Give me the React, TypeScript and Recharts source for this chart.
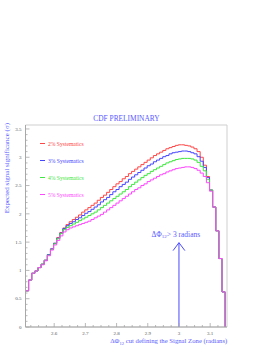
import { LineChart, Line, XAxis, YAxis, ReferenceLine, ReferenceArea } from "recharts";

// histogram: 0.01 wide bins starting at the left edge of the axis
const BIN_START = 2.508;
const BIN_WIDTH = 0.01;

const sys2 = [0.64, 0.83, 0.95, 0.99, 1.05, 1.11, 1.18, 1.28, 1.38, 1.48, 1.58, 1.67,
  1.75, 1.81, 1.86, 1.9, 1.94, 1.98, 2.03, 2.07, 2.11, 2.15,
  2.19, 2.24, 2.29, 2.33, 2.38, 2.43, 2.48, 2.53, 2.57, 2.62,
  2.66, 2.71, 2.75, 2.79, 2.83, 2.87, 2.91, 2.95, 2.99, 3.03,
  3.06, 3.09, 3.12, 3.15, 3.17, 3.19, 3.21, 3.22, 3.22, 3.21,
  3.2, 3.18, 3.15, 3.1, 3.0, 2.86, 2.66,
  2.42, 2.12, 1.7, 1.21, 0.62];

const sys3 = [0.64, 0.83, 0.95, 0.99, 1.05, 1.11, 1.18, 1.28, 1.38, 1.48, 1.57, 1.66,
  1.74, 1.79, 1.83, 1.86, 1.9, 1.93, 1.97, 2.01, 2.04, 2.08,
  2.12, 2.16, 2.21, 2.25, 2.29, 2.34, 2.39, 2.43, 2.48, 2.52,
  2.56, 2.61, 2.65, 2.69, 2.73, 2.77, 2.81, 2.85, 2.88, 2.92,
  2.95, 2.98, 3.01, 3.03, 3.06, 3.08, 3.09, 3.1, 3.11, 3.11,
  3.1, 3.08, 3.06, 3.01, 2.93, 2.82, 2.64,
  2.42, 2.12, 1.7, 1.21, 0.62];

const sys4 = [0.64, 0.83, 0.95, 0.99, 1.05, 1.11, 1.18, 1.27, 1.37, 1.47, 1.56, 1.65,
  1.72, 1.76, 1.79, 1.82, 1.85, 1.88, 1.91, 1.94, 1.97, 2.0,
  2.03, 2.07, 2.11, 2.15, 2.19, 2.23, 2.27, 2.31, 2.35, 2.39,
  2.43, 2.48, 2.52, 2.56, 2.6, 2.64, 2.68, 2.71, 2.75, 2.78,
  2.81, 2.84, 2.87, 2.9, 2.92, 2.94, 2.96, 2.97, 2.98, 2.98,
  2.98, 2.97, 2.95, 2.91, 2.84, 2.76, 2.61,
  2.42, 2.12, 1.7, 1.21, 0.62];

const sys5 = [0.64, 0.83, 0.95, 0.99, 1.05, 1.1, 1.17, 1.26, 1.36, 1.45, 1.53, 1.61,
  1.68, 1.72, 1.75, 1.77, 1.79, 1.81, 1.83, 1.85, 1.87, 1.9,
  1.93, 1.96, 1.99, 2.03, 2.07, 2.11, 2.15, 2.19, 2.23, 2.27,
  2.31, 2.35, 2.39, 2.43, 2.46, 2.5, 2.53, 2.57, 2.6, 2.63,
  2.66, 2.69, 2.71, 2.74, 2.76, 2.78, 2.8, 2.81, 2.82, 2.83,
  2.83, 2.82, 2.8, 2.77, 2.72, 2.66, 2.55,
  2.4, 2.12, 1.7, 1.21, 0.62];

const SERIES = [
  { key: "s2", label: "2% Systematics", color: "#ff4646", values: sys2 },
  { key: "s3", label: "3% Systematics", color: "#4646ff", values: sys3 },
  { key: "s4", label: "4% Systematics", color: "#3ee83e", values: sys4 },
  { key: "s5", label: "5% Systematics", color: "#ff46ff", values: sys5 },
];

const X_MAJOR = [2.6, 2.7, 2.8, 2.9, 3, 3.1];
const X_MAJOR_LABELS = ["2.6", "2.7", "2.8", "2.9", "3", "3.1"];
const Y_MAJOR = [0, 0.5, 1, 1.5, 2, 2.5, 3, 3.5];
const Y_MAJOR_LABELS = ["0", "0.5", "1", "1.5", "2", "2.5", "3", "3.5"];

const X_DOMAIN: [number, number] = [2.508, 3.154];
const Y_DOMAIN: [number, number] = [0, 3.57];

const CUT = 3;
const CUT_ARROW_TOP = 1.49;

const BLUE_TEXT = "#5a5aff";
const AXIS = "#a8a8a8";
const FONT = "'Liberation Serif', 'DejaVu Serif', serif";

// minor ticks every 0.025 on x, 0.1 on y
const xTicks: number[] = [];
for (let i = 1; i <= 25; i++) xTicks.push(+(2.5 + i * 0.025).toFixed(3));
const yTicks: number[] = [];
for (let i = 0; i <= 35; i++) yTicks.push(+(i * 0.1).toFixed(1));

// step rows: a zero at the start, one row per bin edge, and a zero closing the last bin
const rows: Record<string, number>[] = [];
const zero: Record<string, number> = { x: BIN_START };
SERIES.forEach((s) => (zero[s.key] = 0));
rows.push(zero);
sys2.forEach((_, i) => {
  const r: Record<string, number> = { x: +(BIN_START + i * BIN_WIDTH).toFixed(4) };
  SERIES.forEach((s) => (r[s.key] = s.values[i]));
  rows.push(r);
});
const end: Record<string, number> = { x: +(BIN_START + sys2.length * BIN_WIDTH).toFixed(4) };
SERIES.forEach((s) => (end[s.key] = 0));
rows.push(end);

const near = (a: number, b: number) => Math.abs(a - b) < 1e-6;

const XTick = (props: any) => {
  const { x, y, payload } = props;
  const idx = X_MAJOR.findIndex((t) => near(t, payload.value));
  const major = idx >= 0;
  return (
    <g>
      <line x1={x} x2={x} y1={y} y2={y - (major ? 4 : 2)} stroke={AXIS} strokeWidth={0.8} />
      {major && (
        <text x={x} y={y + 7.5} textAnchor="middle" fontSize={5} fill="#555" fontFamily={FONT}>
          {X_MAJOR_LABELS[idx]}
        </text>
      )}
    </g>
  );
};

const YTick = (props: any) => {
  const { x, y, payload } = props;
  const idx = Y_MAJOR.findIndex((t) => near(t, payload.value));
  const major = idx >= 0;
  return (
    <g>
      <line x1={x} x2={x + (major ? 4 : 2)} y1={y} y2={y} stroke={AXIS} strokeWidth={0.8} />
      {major && (
        <text x={x - 4} y={y} dy="0.35em" textAnchor="end" fontSize={5} fill="#555" fontFamily={FONT}>
          {Y_MAJOR_LABELS[idx]}
        </text>
      )}
    </g>
  );
};

export default function App() {
  return (
    <div style={{ position: "relative", width: 273, height: 353, background: "#fff" }}>
      <style>{"body{margin:0}"}</style>
      <LineChart width={273} height={353} data={rows} margin={{ top: 125, right: 46, bottom: 0, left: 0 }}>
        <XAxis
          dataKey="x"
          type="number"
          domain={X_DOMAIN}
          allowDataOverflow
          ticks={xTicks}
          interval={0}
          tick={<XTick />}
          tickLine={false}
          tickSize={0}
          tickMargin={0}
          height={26}
          axisLine={{ stroke: AXIS }}
        />
        <YAxis
          type="number"
          domain={Y_DOMAIN}
          allowDataOverflow
          ticks={yTicks}
          interval={0}
          tick={<YTick />}
          tickLine={false}
          tickSize={0}
          tickMargin={0}
          width={25.5}
          axisLine={{ stroke: AXIS }}
        />
        <ReferenceArea
          x1={X_DOMAIN[0]}
          x2={X_DOMAIN[1]}
          y1={Y_DOMAIN[0]}
          y2={Y_DOMAIN[1]}
          fill="none"
          stroke="#cfcfcf"
          strokeWidth={1}
        />
        {SERIES.map((s) => (
          <Line
            key={s.key}
            dataKey={s.key}
            type="stepAfter"
            stroke={s.color}
            strokeWidth={1}
            dot={false}
            activeDot={false}
            isAnimationActive={false}
          />
        ))}
        <ReferenceLine segment={[{ x: CUT, y: 0 }, { x: CUT, y: CUT_ARROW_TOP }]} stroke="#4a4aff" strokeWidth={1} />
        <ReferenceLine segment={[{ x: CUT - 0.019, y: CUT_ARROW_TOP - 0.14 }, { x: CUT, y: CUT_ARROW_TOP }]} stroke="#4a4aff" strokeWidth={1} />
        <ReferenceLine segment={[{ x: CUT + 0.019, y: CUT_ARROW_TOP - 0.14 }, { x: CUT, y: CUT_ARROW_TOP }]} stroke="#4a4aff" strokeWidth={1} />
      </LineChart>
      <div style={{ position: "absolute", left: 40, top: 135, fontFamily: FONT, fontSize: 5.6 }}>
        {SERIES.map((s) => (
          <div key={s.key} style={{ display: "flex", alignItems: "center", height: 17, color: s.color, whiteSpace: "nowrap" }}>
            <span style={{ display: "inline-block", width: 5, height: 1, background: s.color, marginRight: 3 }} />
            {s.label}
          </div>
        ))}
      </div>
      <svg width={273} height={353} style={{ position: "absolute", left: 0, top: 0, pointerEvents: "none" }}>
        <g fontFamily={FONT} fill={BLUE_TEXT}>
          <text x={126.5} y={120.5} textAnchor="middle" fontSize={7.4}>CDF PRELIMINARY</text>
          <text x={151.5} y={236.5} fontSize={7.5}>
            ΔΦ<tspan dy={1.8} fontSize={5}>12</tspan>
            <tspan dy={-1.8}>&gt; 3 radians</tspan>
          </text>
          <text x={227.3} y={343} textAnchor="end" fontSize={6.7}>
            ΔΦ<tspan dy={1.6} fontSize={4.6}>12</tspan>
            <tspan dy={-1.6}> cut defining the Signal Zone (radians)</tspan>
          </text>
          <text transform="translate(8.5,123) rotate(-90)" textAnchor="end" fontSize={7}>
            Expected signal significance (σ)
          </text>
        </g>
      </svg>
    </div>
  );
}
